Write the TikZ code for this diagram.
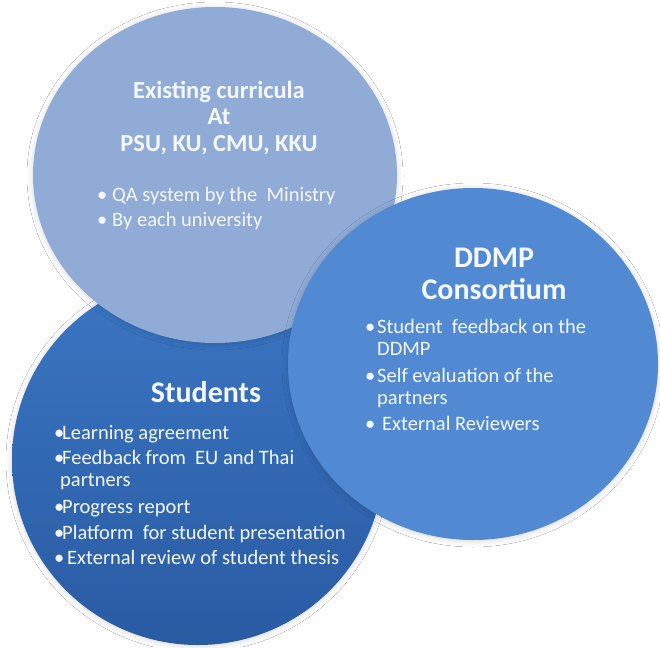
\documentclass[tikz,border=0pt]{standalone}
\usepackage{fontspec}
\setmainfont{Carlito}
\usetikzlibrary{shadows.blur}
\definecolor{topc}{HTML}{90ACD6}
\definecolor{rightc}{HTML}{518AD2}
\definecolor{botTop}{HTML}{3B76C3}
\definecolor{botBot}{HTML}{295BA3}
\definecolor{txt}{HTML}{F4F7FC}
\tikzset{
  disk/.style={blur shadow={shadow xshift=0pt, shadow yshift=-1pt, shadow blur radius=6pt, shadow opacity=16}},
  ttlsmall/.style={text=txt, font=\bfseries\fontsize{24.5}{26}\selectfont, align=center, inner sep=0pt, anchor=base},
  ttlbig/.style={text=txt, font=\bfseries\fontsize{30}{32}\selectfont, align=center, inner sep=0pt, anchor=base},
  items/.style={text=txt, font=\fontsize{20.5}{22}\selectfont, align=left, inner sep=0pt, anchor=base west},
}
\newcommand{\bul}[1]{\makebox[#1][l]{\textbullet}}
\begin{document}
\begin{tikzpicture}[x=1pt,y=-1pt]
\useasboundingbox (0,0) rectangle (660,647);
\fill[white] (0,0) rectangle (660,647);
% circles
\path[disk, top color=botTop, bottom color=botBot] (198,460) ellipse [x radius=186pt, y radius=185pt];
\path[disk, fill=topc] (215,175) ellipse [x radius=182pt, y radius=168pt];
\path[disk, fill=rightc] (473,364) ellipse [x radius=185pt, y radius=176pt];
% top circle text (anchor = baseline of the last line)
\node[ttlsmall] (exist) at (219,151) {Existing curricula\\At\\PSU, KU, CMU, KKU};
\node[items] (qa) at (97,226) {\bul{15pt}QA system by the~ Ministry\\[3pt]\bul{15pt}By each university};
% right circle text
\node[ttlbig] (ddmp) at (494,299) {DDMP\\Consortium};
\node[items] (ddmpl) at (365,430) {\bul{12pt}Student~ feedback on the\\\hspace{12pt}DDMP\\[5pt]\bul{12pt}Self evaluation of the\\\hspace{12pt}partners\\[4pt]\bul{12pt}\hspace{5pt}External Reviewers};
% bottom circle text
\node[ttlbig] (stud) at (206,402) {Students};
\node[items] (studl) at (54,564) {\bul{8pt}Learning agreement\\[3pt]\bul{8pt}Feedback from~ EU and Thai\\\hspace{6pt}partners\\[5pt]\bul{8pt}Progress report\\[4pt]\bul{8pt}Platform~ for student presentation\\[3pt]\bul{8pt}\hspace{5pt}External review of student thesis};
\end{tikzpicture}
\end{document}
